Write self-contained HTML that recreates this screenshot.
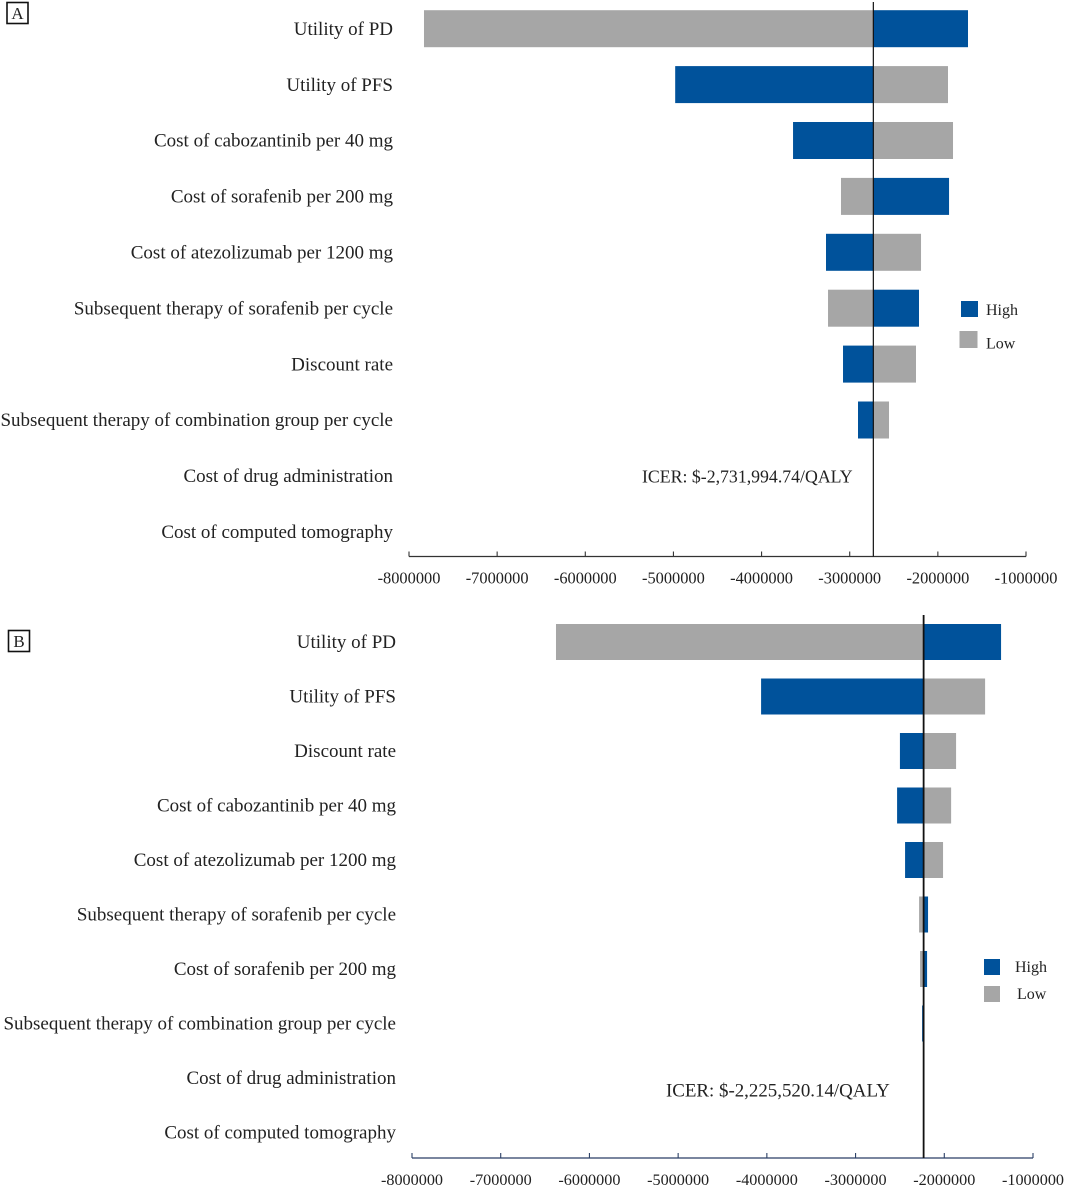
<!DOCTYPE html>
<html lang="en">
<head>
<meta charset="utf-8">
<title>Tornado diagrams</title>
<style>
html,body{margin:0;padding:0;background:#fff;}
svg{display:block;font-family:"Liberation Serif",serif;}
</style>
</head>
<body>
<svg id="chart" xmlns="http://www.w3.org/2000/svg" width="1065" height="1186" viewBox="0 0 1065 1186">
<rect x="7" y="2.5" width="21" height="21" fill="none" stroke="#111" stroke-width="1.6"/>
<text x="17.5" y="19" font-size="17" text-anchor="middle" fill="#222">A</text>
<rect x="8.5" y="630.5" width="21" height="21" fill="none" stroke="#111" stroke-width="1.6"/>
<text x="19" y="647" font-size="17" text-anchor="middle" fill="#222">B</text>
<rect x="961" y="301" width="17" height="16" fill="#00529b"/>
<text x="986" y="315" font-size="16" fill="#222">High</text>
<rect x="959.500" y="331" width="18" height="17" fill="#a6a6a6"/>
<text x="986" y="348.500" font-size="16" fill="#222">Low</text>
<rect x="984" y="959" width="16" height="16" fill="#00529b"/>
<text x="1015" y="972" font-size="16" fill="#222">High</text>
<rect x="984" y="986" width="16" height="16" fill="#a6a6a6"/>
<text x="1017" y="999" font-size="16" fill="#222">Low</text>
</svg>
<script>
const tickValues = [-8000000,-7000000,-6000000,-5000000,-4000000,-3000000,-2000000,-1000000];

const categoriesA = ["Utility of PD","Utility of PFS","Cost of cabozantinib per 40 mg","Cost of sorafenib per 200 mg","Cost of atezolizumab per 1200 mg","Subsequent therapy of sorafenib per cycle","Discount rate","Subsequent therapy of combination group per cycle","Cost of drug administration","Cost of computed tomography"];
const highA = [-1658000,-4980000,-3643000,-1873000,-3269000,-2214000,-3076000,-2906000,-2731994,-2731994];
const lowA = [-7830000,-1885000,-1828000,-3099000,-2191000,-3246000,-2248000,-2554000,-2731994,-2731994];
const baseA = -2731994.74;
const icerLabelA = "ICER: $-2,731,994.74/QALY";

const categoriesB = ["Utility of PD","Utility of PFS","Discount rate","Cost of cabozantinib per 40 mg","Cost of atezolizumab per 1200 mg","Subsequent therapy of sorafenib per cycle","Cost of sorafenib per 200 mg","Subsequent therapy of combination group per cycle","Cost of drug administration","Cost of computed tomography"];
const highB = [-1360000,-4065000,-2500000,-2532000,-2442000,-2183000,-2194000,-2250000,-2233000,-2233000];
const lowB = [-6377000,-1540000,-1867000,-1923000,-2014000,-2284000,-2273000,-2233000,-2233000,-2233000];
const baseB = -2233000;
const icerLabelB = "ICER: $-2,225,520.14/QALY";

const svg = document.getElementById('chart');
const NS = 'http://www.w3.org/2000/svg';

function make(tag, attrs, text) {
  const el = document.createElementNS(NS, tag);
  for (const k in attrs) el.setAttribute(k, attrs[k]);
  if (text !== undefined) el.textContent = text;
  svg.appendChild(el);
  return el;
}

function drawPanel(p) {
  const x = v => p.x0 + (v - tickValues[0]) / (tickValues[tickValues.length - 1] - tickValues[0]) * (p.x1 - p.x0);
  const y = i => p.firstRow + i * p.rowStep;

  p.categories.forEach((name, i) => {
    const label = make('text', {x: p.labelX, y: y(i) + p.labelDy, 'font-size': p.labelSize, 'text-anchor': 'end', fill: '#222'}, name);
    
    

    const pairs = [[p.low[i], '#a6a6a6', 'bar-low'], [p.high[i], '#00529b', 'bar-high']];
    pairs.forEach(pair => {
      const a = x(p.base), b = x(pair[0]);
      const bar = make('rect', {x: Math.min(a, b), y: y(i) - p.barH / 2, width: Math.abs(b - a), height: p.barH, fill: pair[1]});
      
      
    });
  });

  const axis = make('line', {x1: x(tickValues[0]), x2: x(tickValues[tickValues.length - 1]), y1: p.axisY, y2: p.axisY, stroke: p.axisColor, 'stroke-width': 1.2});
  
  

  tickValues.forEach(v => {
    const tick = make('line', {x1: x(v), x2: x(v), y1: p.axisY - 5, y2: p.axisY, stroke: p.axisColor, 'stroke-width': 1.1});
    
    
    const tl = make('text', {x: x(v), y: p.axisY + p.tickOffset, 'font-size': p.tickSize, 'text-anchor': 'middle', fill: '#222'}, String(v));
    
    
  });

  const base = make('line', {x1: x(p.base), x2: x(p.base), y1: p.lineTop, y2: p.axisY, stroke: '#111', 'stroke-width': p.lineW});
  
  

  const icer = make('text', {x: p.icerX, y: p.icerY, 'font-size': p.icerSize, fill: '#222'}, p.icer);
  
  
}

drawPanel({categories: categoriesA, high: highA, low: lowA, base: baseA, icer: icerLabelA,
  x0: 409, x1: 1026, firstRow: 28.7, rowStep: 55.9, barH: 37, labelX: 393, labelSize: 19, labelDy: 6.2,
  axisY: 556.5, axisColor: '#333', tickOffset: 27, tickSize: 16.4, lineTop: 2, lineW: 1.2,
  icerX: 642, icerY: 482.5, icerSize: 17.8});

drawPanel({categories: categoriesB, high: highB, low: lowB, base: baseB, icer: icerLabelB,
  x0: 412, x1: 1033, firstRow: 642, rowStep: 54.5, barH: 36, labelX: 396, labelSize: 19, labelDy: 6.2,
  axisY: 1158, axisColor: '#2a3f66', tickOffset: 27, tickSize: 16.2, lineTop: 615, lineW: 1.8,
  icerX: 666, icerY: 1096.5, icerSize: 18.9});
</script>
</body>
</html>
